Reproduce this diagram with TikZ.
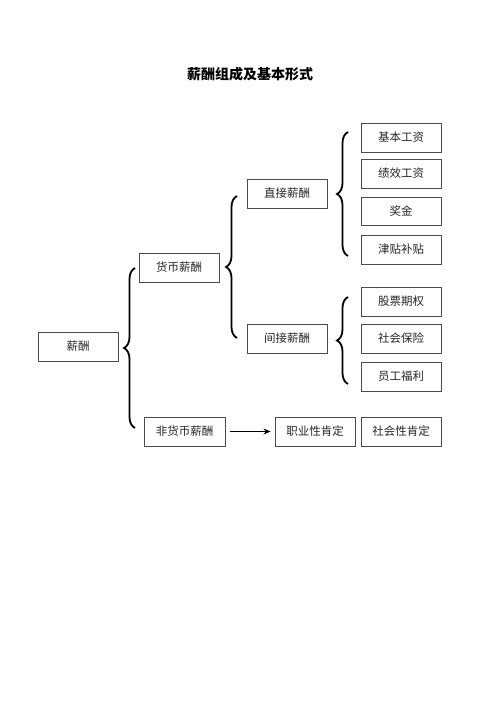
\documentclass[tikz,border=0pt]{standalone}
\usepackage{fontspec}
\newfontfamily\cjk{Noto Sans CJK SC}
\usetikzlibrary{decorations.pathreplacing,arrows.meta}
\begin{document}
\begin{tikzpicture}[x=1pt,y=-1pt,
  box/.style={draw=black!70,line width=0.9pt,rectangle,inner sep=0pt,text=black!85,font=\cjk\fontsize{11.5}{12}\selectfont},
  br/.style={decorate,decoration={brace,amplitude=11pt,raise=0pt},line width=1.8pt},
  arr/.style={-{Stealth[length=7pt,width=6pt]},line width=1.8pt}]
\useasboundingbox (0,0) rectangle (500,708);
\node[font=\cjk\bfseries\fontsize{14}{16}\selectfont] (title) at (250,74) {薪酬组成及基本形式};
\newcommand{\bx}[5]{\node[box,minimum width=#3-#2 pt,minimum height=#5-#4 pt] (#1) at ({(#2+#3)/2},{(#4+#5)/2})}
\bx{xc}{38}{118}{332}{361}{薪酬};
\bx{hb}{139}{219}{253}{282}{货币薪酬};
\bx{fhb}{144}{225}{417}{446}{非货币薪酬};
\bx{zj}{247}{327}{179}{208}{直接薪酬};
\bx{jj}{247}{327}{324}{353}{间接薪酬};
\bx{jb}{361}{441}{123}{152}{基本工资};
\bx{jx}{361}{441}{159}{188}{绩效工资};
\bx{jjin}{361}{441}{197}{225}{奖金};
\bx{jt}{361}{441}{235}{264}{津贴补贴};
\bx{gp}{361}{441}{287}{316}{股票期权};
\bx{sb}{361}{441}{324}{353}{社会保险};
\bx{fl}{361}{441}{362}{391}{员工福利};
\bx{zy}{275}{355}{417}{446}{职业性肯定};
\bx{sh}{361}{441}{417}{446}{社会性肯定};
\coordinate (b1a) at (135,428); \coordinate (b1b) at (135,268);
\coordinate (b2a) at (237,338); \coordinate (b2b) at (237,196);
\coordinate (b3a) at (348,256); \coordinate (b3b) at (348,132);
\coordinate (b4a) at (348,384); \coordinate (b4b) at (348,297);
\draw[br] (b1a) -- (b1b);
\draw[br] (b2a) -- (b2b);
\draw[br] (b3a) -- (b3b);
\draw[br] (b4a) -- (b4b);
\draw[arr] ([xshift=5pt]fhb.east) -- ([xshift=-4pt]zy.west);
\end{tikzpicture}
\end{document}
